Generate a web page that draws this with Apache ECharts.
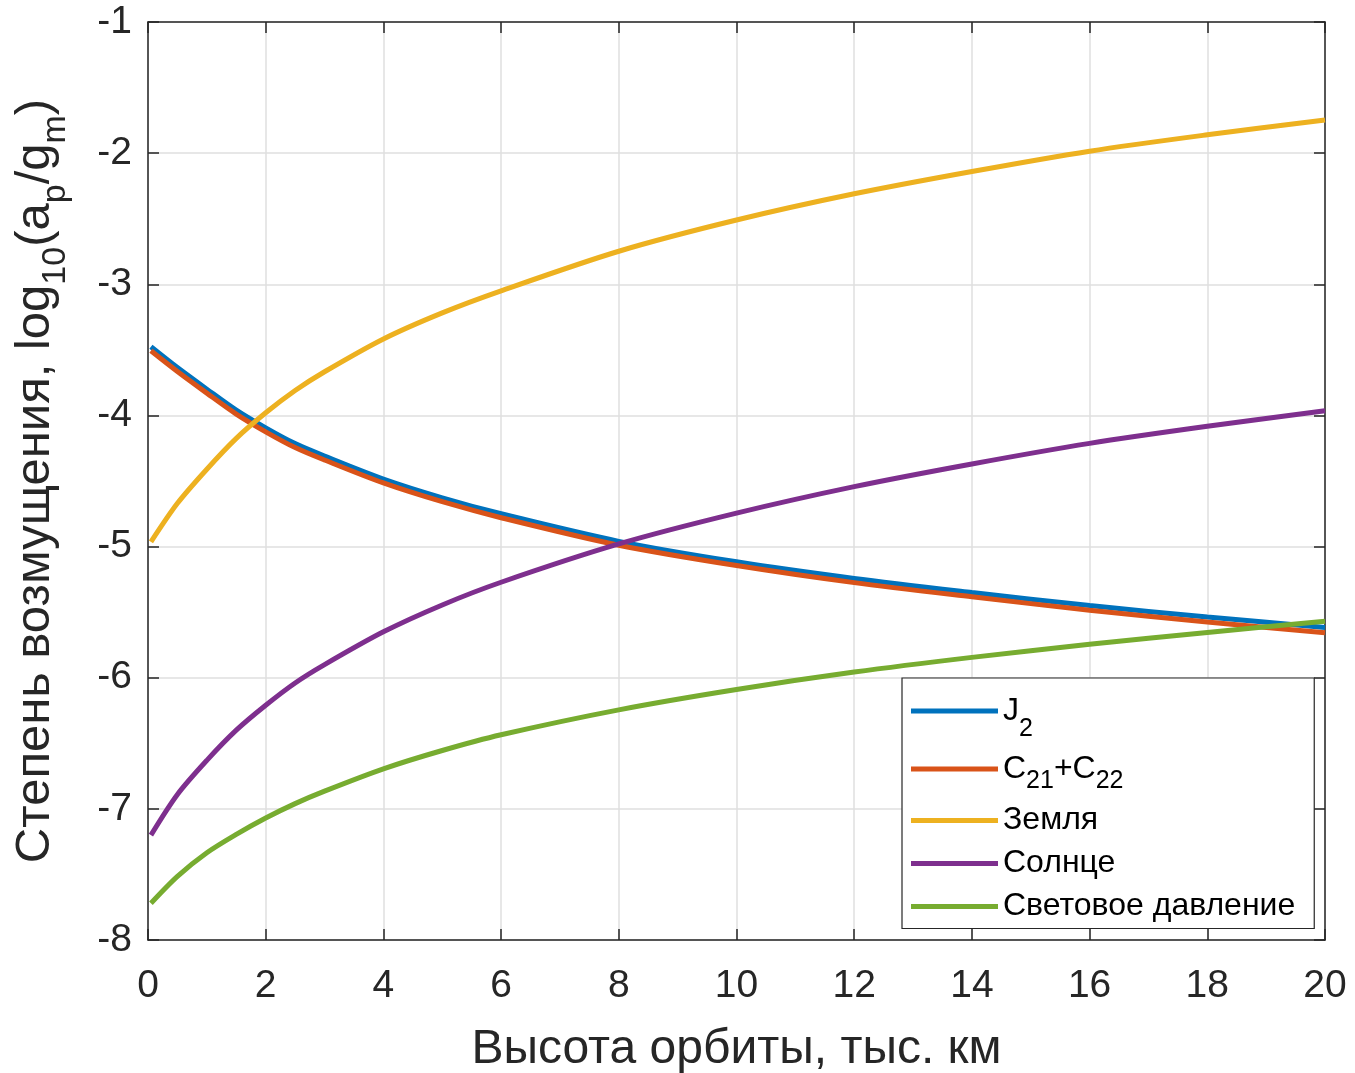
<!DOCTYPE html>
<html>
<head>
<meta charset="utf-8">
<script src="https://cdn.jsdelivr.net/npm/echarts@6/dist/echarts.min.js"></script>
<style>
  html, body { margin: 0; padding: 0; background: #fff; }
  #chart { width: 1355px; height: 1073px; }
</style>
</head>
<body>
<div id="chart"></div>
<script>
// высота орбиты, тыс. км
var heights = [0.05, 0.5, 1, 1.5, 2, 2.5, 3, 4, 5, 6, 8, 10, 12, 14, 16, 18, 20];

// log10(ap/gm) по каждому возмущению
var j2     = [-3.476, -3.635, -3.80, -3.96, -4.095, -4.215, -4.31, -4.485, -4.628, -4.75, -4.96, -5.116, -5.243, -5.35, -5.45, -5.537, -5.617];
var c21c22 = [-3.507, -3.665, -3.83, -3.99, -4.125, -4.245, -4.34, -4.515, -4.658, -4.78, -4.99, -5.145, -5.275, -5.383, -5.485, -5.575, -5.657];
var zemlya = [-4.964, -4.67, -4.41, -4.175, -3.98, -3.81, -3.667, -3.417, -3.218, -3.05, -2.748, -2.51, -2.31, -2.14, -1.985, -1.86, -1.747];
var solnce = [-7.20, -6.89, -6.63, -6.40, -6.21, -6.04, -5.90, -5.65, -5.445, -5.272, -4.98, -4.745, -4.543, -4.37, -4.213, -4.083, -3.965];
var svet   = [-7.72, -7.515, -7.335, -7.195, -7.07, -6.96, -6.865, -6.695, -6.555, -6.435, -6.245, -6.09, -5.957, -5.845, -5.745, -5.655, -5.57];

var names = ['J2', 'C21+C22', 'Земля', 'Солнце', 'Световое давление'];
var colors = ['#0072BD', '#D95319', '#EDB120', '#7E2F8E', '#77AC30'];

var font = 'Liberation Sans, Arial, Helvetica, sans-serif';
var axisColor = '#262626';

function pairs(ys) {
  return heights.map(function (h, i) { return [h, ys[i]]; });
}

function makeSeries(name, ys, color) {
  return {
    name: name,
    type: 'line',
    data: pairs(ys),
    smooth: 0.3,
    symbol: 'none',
    color: color,
    lineStyle: { width: 5, color: color },
    animation: false
  };
}

function legendRich(lh) {
  return {
    a: { fontSize: 32, lineHeight: lh, color: '#000', fontFamily: font },
    s: { fontSize: 25, lineHeight: 25, verticalAlign: 'bottom', padding: [0, 0, -12, 0], color: '#000', fontFamily: font }
  };
}

var myChart = echarts.init(document.getElementById('chart'));

var option = {
  backgroundColor: '#fff',
  textStyle: { fontFamily: font },
  grid: { left: 148, right: 30, top: 22, bottom: 133, containLabel: false, outerBoundsMode: 'none' },
  legend: {
    orient: 'vertical',
    left: 902,
    top: 678,
    padding: [17, 19, 6, 9],
    itemGap: 11,
    itemWidth: 87,
    itemHeight: 5,
    icon: 'rect',
    backgroundColor: '#fff',
    borderColor: '#262626',
    borderWidth: 1.2,
    borderRadius: 0,
    data: [
      { name: names[0], textStyle: { rich: legendRich(38) } },
      { name: names[1], textStyle: { rich: legendRich(22) } },
      names[2], names[3], names[4]
    ],
    formatter: function (n) {
      if (n === 'J2') return '{a|J}{s|2}';
      if (n === 'C21+C22') return '{a|C}{s|21}{a|+C}{s|22}';
      return '{a|' + n + '}';
    },
    textStyle: {
      color: '#000',
      fontFamily: font,
      rich: legendRich(36)
    }
  },
  xAxis: [{
    type: 'value',
    min: 0,
    max: 20,
    interval: 2,
    name: 'Высота орбиты, тыс. км',
    nameLocation: 'middle',
    nameGap: 86,
    nameTextStyle: { fontSize: 48, color: '#262626', fontFamily: font },
    axisLine: { show: true, onZero: false, lineStyle: { color: axisColor, width: 1.5 } },
    axisTick: { show: true, inside: true, length: 11, lineStyle: { color: axisColor, width: 1.5 } },
    axisLabel: { fontSize: 39, color: '#262626', margin: 27, fontFamily: font },
    splitLine: { show: true, lineStyle: { color: '#dfdfdf', width: 1.5 } }
  }, {
    type: 'value',
    position: 'top',
    min: 0,
    max: 20,
    interval: 2,
    axisLine: { show: true, onZero: false, lineStyle: { color: axisColor, width: 1.5 } },
    axisTick: { show: true, inside: true, length: 11, lineStyle: { color: axisColor, width: 1.5 } },
    axisLabel: { show: false },
    splitLine: { show: false }
  }],
  yAxis: [{
    type: 'value',
    min: -8,
    max: -1,
    interval: 1,
    name: '{a|Степень возмущения, log}{s|10}{a|(a}{s|p}{a|/g}{s|m}{a|)}',
    nameLocation: 'middle',
    nameGap: 85,
    nameRotate: 90,
    nameTextStyle: {
      color: '#262626',
      fontFamily: font,
      rich: {
        a: { fontSize: 49, lineHeight: 56, color: '#262626', fontFamily: font },
        s: { fontSize: 34, lineHeight: 34, verticalAlign: 'bottom', padding: [0, 0, -10, 0], color: '#262626', fontFamily: font }
      }
    },
    axisLine: { show: true, onZero: false, lineStyle: { color: axisColor, width: 1.5 } },
    axisTick: { show: true, inside: true, length: 11, lineStyle: { color: axisColor, width: 1.5 } },
    axisLabel: { fontSize: 39, color: '#262626', margin: 16, fontFamily: font },
    splitLine: { show: true, lineStyle: { color: '#dfdfdf', width: 1.5 } }
  }, {
    type: 'value',
    position: 'right',
    min: -8,
    max: -1,
    interval: 1,
    axisLine: { show: true, onZero: false, lineStyle: { color: axisColor, width: 1.5 } },
    axisTick: { show: true, inside: true, length: 11, lineStyle: { color: axisColor, width: 1.5 } },
    axisLabel: { show: false },
    splitLine: { show: false }
  }],
  series: [
    makeSeries(names[0], j2, colors[0]),
    makeSeries(names[1], c21c22, colors[1]),
    makeSeries(names[2], zemlya, colors[2]),
    makeSeries(names[3], solnce, colors[3]),
    makeSeries(names[4], svet, colors[4])
  ]
};

myChart.setOption(option);
window.onresize = myChart.resize;
</script>
</body>
</html>
